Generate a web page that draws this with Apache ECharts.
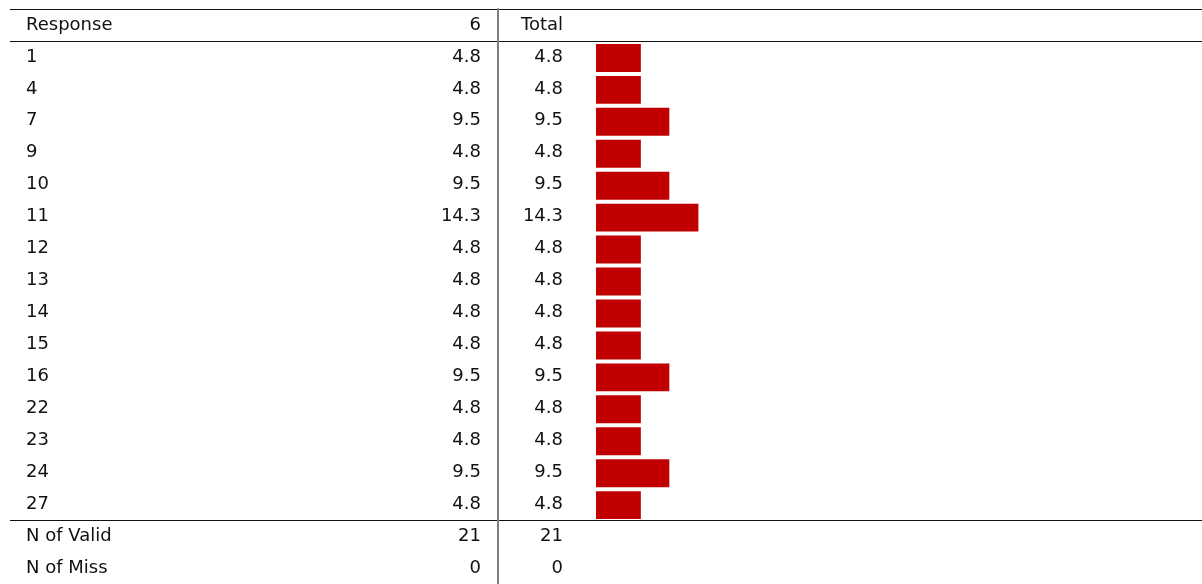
<!DOCTYPE html>
<html>
<head>
<meta charset="utf-8">
<script src="https://cdn.jsdelivr.net/npm/echarts@6/dist/echarts.min.js"></script>
<style>
  html, body { margin: 0; padding: 0; background: #fff; }
  #main { width: 1202px; height: 584px; }
</style>
</head>
<body>
<div id="main"></div>
<script>
/* table data */
let headers = ['Response', '6', 'Total'];
let categories = ['1', '4', '7', '9', '10', '11', '12', '13', '14', '15', '16', '22', '23', '24', '27'];
let pct6 = [4.8, 4.8, 9.5, 4.8, 9.5, 14.3, 4.8, 4.8, 4.8, 4.8, 9.5, 4.8, 4.8, 9.5, 4.8];
let pctTotal = [4.8, 4.8, 9.5, 4.8, 9.5, 14.3, 4.8, 4.8, 4.8, 4.8, 9.5, 4.8, 4.8, 9.5, 4.8];
let summaryLabels = ['N of Valid', 'N of Miss'];
let summary6 = [21, 0];
let summaryTotal = [21, 0];

/* row keys: header + responses + summary */
let rows = [headers[0]].concat(categories, summaryLabels);
let col6 = [headers[1]].concat(pct6.map(v => v.toFixed(1)), summary6.map(String));
let colTotal = [headers[2]].concat(pctTotal.map(v => v.toFixed(1)), summaryTotal.map(String));

let barMin = -2.6;
let font = {fontFamily: 'DejaVu Sans', fontSize: 18, color: '#111', lineHeight: 20, padding: [3, 0, 0, 0]};

let chart = echarts.init(document.getElementById('main'));
let option = {
    animation: false,
    grid: [
        {left: 10, right: 0, top: 9, height: 576},
        {left: 596, right: 0, top: 9, height: 576}
    ],
    xAxis: [
        {gridIndex: 0, type: 'value', show: false},
        {gridIndex: 1, type: 'value', min: barMin, max: barMin + 100, show: false}
    ],
    yAxis: [
        {
            gridIndex: 0, type: 'category', inverse: true, data: rows,
            axisLine: {show: false}, axisTick: {show: false},
            axisLabel: Object.assign({inside: true, align: 'left', margin: 16}, font),
            splitLine: {
                show: true,
                interval: (i) => i === 0 || i === 1 || i === rows.length - 2,
                lineStyle: {color: '#111', width: 1.2}
            }
        },
        {
            gridIndex: 0, type: 'category', inverse: true, data: rows,
            position: 'left', offset: -488,
            axisLine: {show: true, lineStyle: {color: '#808080', width: 2}},
            axisTick: {show: false},
            axisLabel: Object.assign({align: 'right', margin: 17,
                formatter: (v, i) => col6[i]}, font),
            splitLine: {show: false}
        },
        {
            gridIndex: 0, type: 'category', inverse: true, data: rows,
            position: 'left', offset: -488,
            axisLine: {show: false}, axisTick: {show: false},
            axisLabel: Object.assign({inside: true, align: 'right', margin: 65,
                formatter: (v, i) => colTotal[i]}, font),
            splitLine: {show: false}
        },
        {
            gridIndex: 1, type: 'category', inverse: true, data: rows, show: false
        }
    ],
    series: [{
        type: 'custom',
        xAxisIndex: 1,
        yAxisIndex: 3,
        encode: {x: 0, y: 1},
        data: categories.map((c, i) => [pctTotal[i], c]),
        renderItem(params, api) {
            let start = api.coord([barMin, api.value(1)]);
            let end = api.coord([api.value(0), api.value(1)]);
            let h = api.size([0, 1])[1] * 0.875;
            return {
                type: 'rect',
                shape: {x: start[0], y: end[1] - h / 2 + 1, width: end[0] - start[0], height: h},
                style: {fill: '#c00000'}
            };
        }
    }]
};
chart.setOption(option);
</script>
</body>
</html>
